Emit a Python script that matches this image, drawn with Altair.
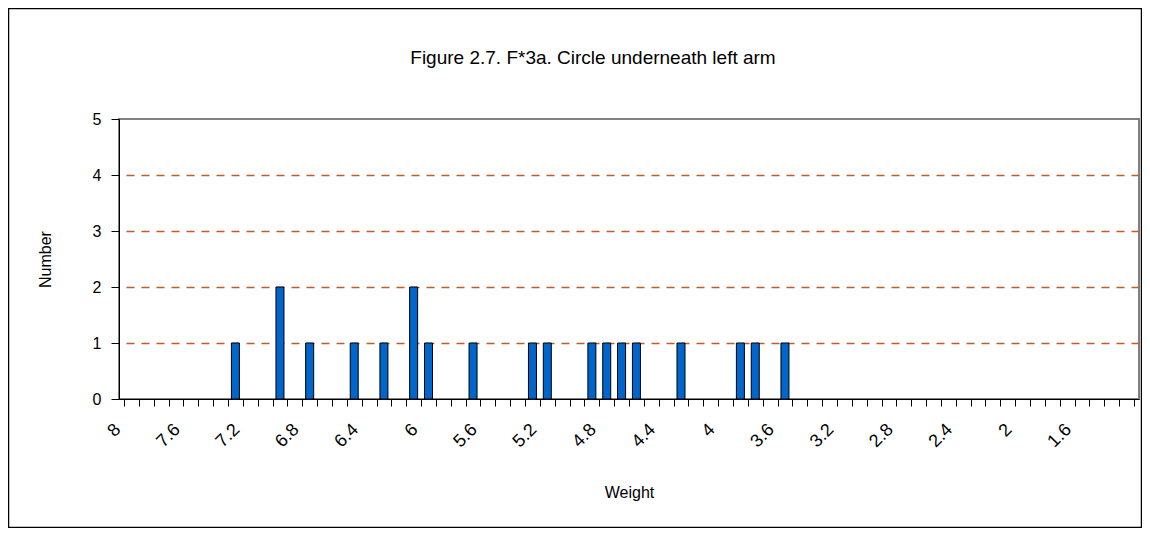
import json
import altair as alt
import pandas as pd

# Bars: weight (centre of each class between tick marks) and count
WEIGHT = [7.25, 6.95, 6.75, 6.45, 6.25, 6.05, 5.95, 5.65, 5.25, 5.15,
          4.85, 4.75, 4.65, 4.55, 4.25, 3.85, 3.75, 3.55]
NUMBER = [1, 2, 1, 1, 1, 2, 1, 1, 1, 1, 1, 1, 1, 1, 1, 1, 1, 1]

X_LABELS = ["8", "7.6", "7.2", "6.8", "6.4", "6", "5.6", "5.2", "4.8", "4.4",
            "4", "3.6", "3.2", "2.8", "2.4", "2", "1.6"]
X_TICKS = [round(8 - 0.1 * i, 1) for i in range(69)]
Y_TICKS = [0, 1, 2, 3, 4, 5]
TITLE = "Figure 2.7. F*3a. Circle underneath left arm"

FONT = "Liberation Sans"
W, H = 1020, 280

df = pd.DataFrame({"Weight": WEIGHT, "Number": NUMBER})

xscale = alt.Scale(domain=[1.2, 8], reverse=True, nice=False, zero=False)
yscale = alt.Scale(domain=[0, 5], nice=False, zero=True)

label_expr = "indexof(%s, datum.label) >= 0 ? datum.label : ''" % json.dumps(X_LABELS)

xaxis = alt.Axis(
    values=X_TICKS, format=".1~f", labelExpr=label_expr,
    labelAngle=-45, labelAlign="right", labelBaseline="bottom",
    labelOverlap=False, labelFlush=False, labelFontSize=18, labelFont=FONT,
    labelColor="black", labelPadding=27,
    tickSize=7, tickColor="black", tickWidth=1,
    domainColor="black", domainWidth=1, grid=False,
    title="Weight", titleFont=FONT, titleFontSize=16, titleFontWeight="normal",
    titleColor="black", titleX=W / 2, titleY=93, titleAlign="center",
    titleBaseline="middle",
)
yaxis = alt.Axis(
    values=Y_TICKS, labelFontSize=16, labelFont=FONT, labelColor="black",
    labelPadding=10, tickSize=8, tickColor="black", tickWidth=1,
    domainColor="black", domainWidth=1,
    grid=True, gridColor="#C8582A", gridDash=[8, 7], gridWidth=1.4,
    gridOpacity={"condition": {"test": "datum.value == 0 || datum.value == 5",
                               "value": 0}, "value": 1},
    title="Number", titleFont=FONT, titleFontSize=16, titleFontWeight="normal",
    titleColor="black", titleX=-74, titleY=H / 2, titleAngle=270,
    titleAlign="center", titleBaseline="middle",
)

bars = alt.Chart(df).mark_bar(
    size=8, color="#0066CC", stroke="black", strokeWidth=1
).encode(
    x=alt.X("Weight:Q", scale=xscale, axis=xaxis),
    y=alt.Y("Number:Q", scale=yscale, axis=yaxis),
)

title = alt.Chart(pd.DataFrame({"t": [TITLE]})).mark_text(
    font=FONT, fontSize=19, color="black", align="center", baseline="middle"
).encode(text="t:N", x=alt.value(474), y=alt.value(-61))

frame = alt.Chart(pd.DataFrame({"a": [0]})).mark_rect(
    fill="transparent", stroke="black", strokeWidth=1.5
).encode(x=alt.value(-110.5), x2=alt.value(1022.5),
         y=alt.value(-110.5), y2=alt.value(408.5))

chart = alt.layer(bars, title, frame).properties(
    width=W, height=H,
    autosize=alt.AutoSizeParams(type="none"),
    padding={"left": 111, "top": 111, "right": 3, "bottom": 129},
    background="white",
).configure_view(stroke="#808080", strokeWidth=2)

chart.save("out.html", embed_options={"renderer": "svg", "actions": False})
